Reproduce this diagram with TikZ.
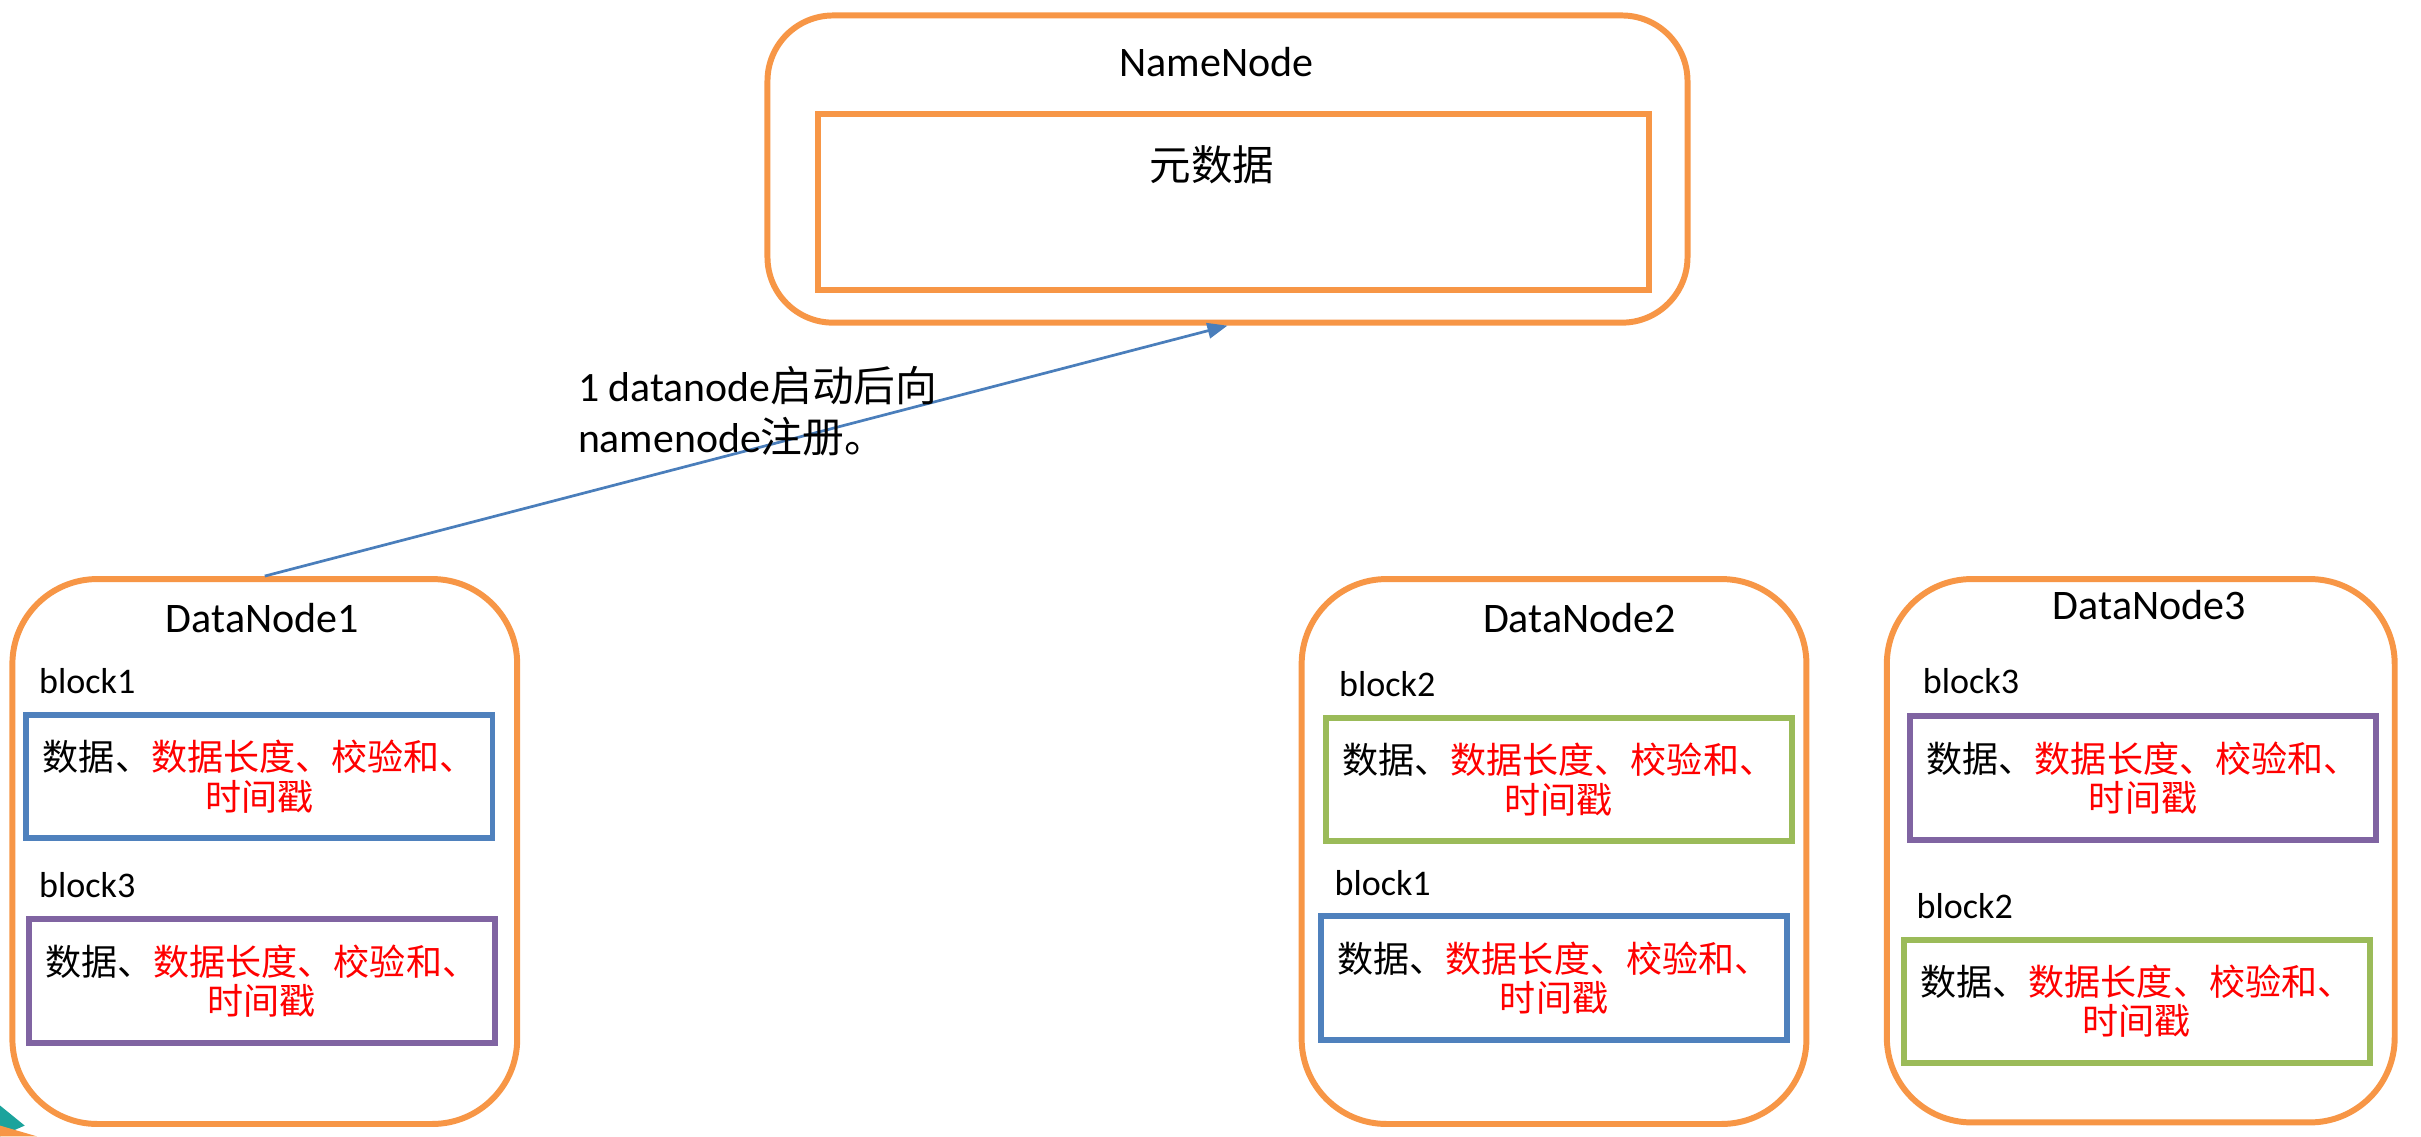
\documentclass[tikz,border=0pt]{standalone}
\usepackage{fontspec}
\setmainfont{Carlito}
\newfontfamily\cjk{Noto Sans CJK SC}
\usetikzlibrary{arrows.meta}
\definecolor{hdorange}{HTML}{F79646}
\definecolor{hdblue}{HTML}{4F81BD}
\definecolor{hdgreen}{HTML}{9BBB59}
\definecolor{hdpurple}{HTML}{8064A2}
\definecolor{hdarrow}{HTML}{4A7EBB}
\definecolor{hdteal}{HTML}{1BA39C}
\newcommand{\blkinfo}{数据、\textcolor{red}{数据长度、校验和、}\\\textcolor{red}{时间戳}}
\begin{document}
\begin{tikzpicture}[x=0.02cm, y=-0.02cm,
          nodebox/.style={draw=hdorange, line width=2.2pt, rounded corners=1.1cm, fill=white},
          blkbox/.style={line width=2.2pt, minimum width=6.04cm, minimum height=1.6cm, align=center,
                         font=\fontsize{13.3}{14.6}\selectfont\cjk, inner sep=0pt},
          title/.style={font=\fontsize{15.5}{18}\selectfont, inner sep=0pt},
          blklabel/.style={anchor=west, font=\fontsize{13.3}{16}\selectfont, inner sep=0pt}]
        % page frame, 1568 x 736 units
        \useasboundingbox (0,0) rectangle (1568,736);
        % corner scrap of the slide theme
        \fill[hdteal] (0,716) -- (16,729) -- (0,736) -- cycle;
        \fill[hdorange] (0,729) -- (24,736) -- (0,736) -- cycle;
        % NameNode with its metadata box
        \node[nodebox, rounded corners=0.85cm, minimum width=11.92cm, minimum height=3.98cm] (nn) at (795,109.5) {};
        \node[title] (nntitle) at (788,40) {NameNode};
        \node[draw=hdorange, line width=2.2pt, minimum width=10.76cm, minimum height=2.28cm] (meta) at (799,131) {};
        \node[title, font=\fontsize{15.3}{18}\selectfont\cjk] (metatxt) at (785,107) {元数据};
        % DataNode1: block1, block3
        \node[nodebox, minimum width=6.54cm, minimum height=7.06cm] (dn1) at (171.5,551.5) {};
        \node[title] (dn1title) at (170,400) {DataNode1};
        \node[blklabel] (dn1l1) at (25,441) {block1};
        \node[blkbox, draw=hdblue] (dn1b1) at (168,503) {\blkinfo};
        \node[blklabel] (dn1l3) at (25,573) {block3};
        \node[blkbox, draw=hdpurple] (dn1b3) at (169.5,635.5) {\blkinfo};
        % DataNode2: block2, block1
        \node[nodebox, minimum width=6.54cm, minimum height=7.06cm] (dn2) at (1006.5,551.5) {};
        \node[title] (dn2title) at (1023,400) {DataNode2};
        \node[blklabel] (dn2l2) at (867,443) {block2};
        \node[blkbox, draw=hdgreen] (dn2b2) at (1009.5,505) {\blkinfo};
        \node[blklabel] (dn2l1) at (864,572) {block1};
        \node[blkbox, draw=hdblue] (dn2b1) at (1006.5,633.5) {\blkinfo};
        % DataNode3: block3, block2
        \node[nodebox, minimum width=6.58cm, minimum height=7.04cm] (dn3) at (1386.5,551) {};
        \node[title] (dn3title) at (1392,392) {DataNode3};
        \node[blklabel] (dn3l3) at (1245,441) {block3};
        \node[blkbox, draw=hdpurple] (dn3b3) at (1388,504) {\blkinfo};
        \node[blklabel] (dn3l2) at (1241,587) {block2};
        \node[blkbox, draw=hdgreen] (dn3b2) at (1384,648.5) {\blkinfo};
        % registration
        \draw[hdarrow, line width=1pt, -{Triangle[length=0.26cm, width=0.2cm]}] (dn1.north) -- (nn.south);
        \node[anchor=west, align=left, inner sep=0pt, font=\fontsize{15.4}{18.8}\selectfont] (reg) at (374,266.5)
          {1 datanode{\cjk 启动后向}\\namenode{\cjk 注册。}};
      \end{tikzpicture}
\end{document}
